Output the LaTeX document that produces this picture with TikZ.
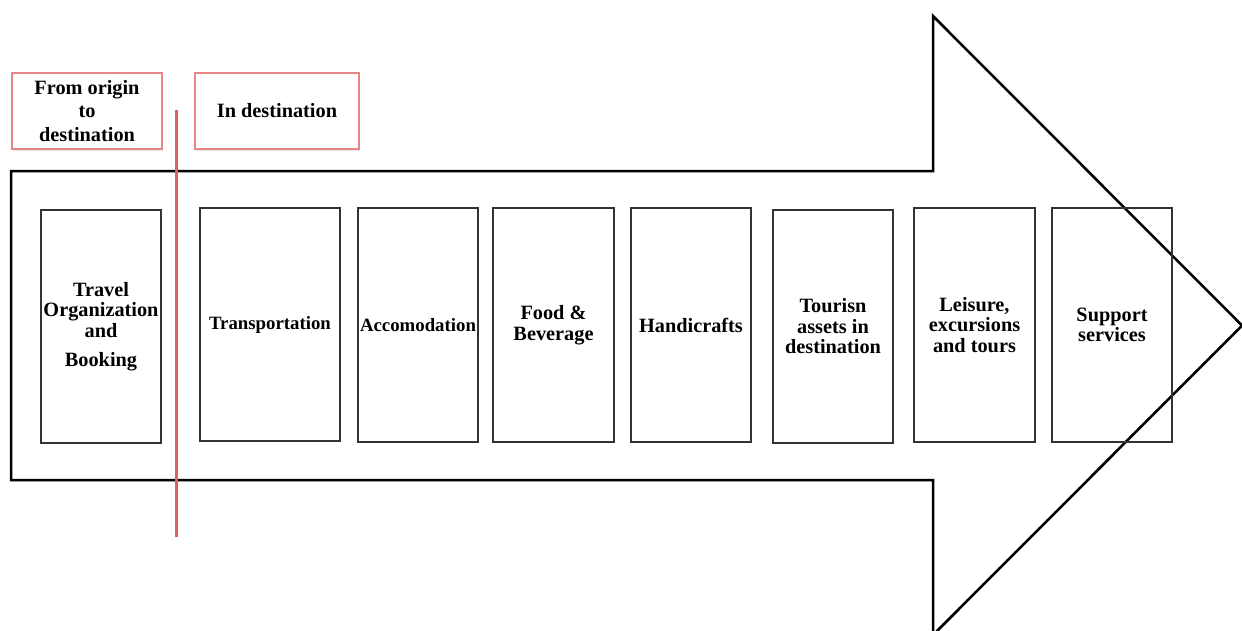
\documentclass[tikz,border=0pt]{standalone}
\usepackage{fontspec}
\setmainfont{Liberation Serif}
\usetikzlibrary{shadows}
\definecolor{redline}{HTML}{DD6060}
\definecolor{redbox}{HTML}{E88585}
\definecolor{cellgray}{HTML}{333333}
\tikzset{
  cell/.style={draw=cellgray, line width=1.4pt, inner sep=0pt, align=center,
    font=\bfseries\fontsize{20.3}{20.5}\selectfont},
  narrow/.style={font=\bfseries\fontsize{18.8}{20.5}\selectfont},
  tag/.style={draw=redbox, line width=1.3pt, inner sep=0pt, align=center, fill=white,
    font=\bfseries\fontsize{20.3}{23.5}\selectfont,
    drop shadow={opacity=0.2, shadow xshift=1pt, shadow yshift=-1.5pt}},
  bigarrow/.style={draw=black, line width=2.5pt, line join=miter, fill=white,
    drop shadow={opacity=0.2, shadow xshift=1pt, shadow yshift=-1.5pt}},
  divider/.style={draw=redline, line width=3pt}
}
\begin{document}
\begin{tikzpicture}[x=1pt,y=-1pt]
\useasboundingbox (0,0) rectangle (1242,630);
\clip (0,0) rectangle (1242,630);
% big arrow
\path[bigarrow] (11,171) -- (933,171) -- (933,16) -- (1242,325.5) -- (933,635) -- (933,480) -- (11,480) -- cycle;
% tags
\node[tag, minimum width=150pt, minimum height=76pt] (tagA) at (87,111) {From origin\\to\\destination};
\node[tag, minimum width=164pt, minimum height=76pt] (tagB) at (277,111) {In destination};
% cells
\node[cell, minimum width=120pt, minimum height=233pt] (c1) at (101,326.5) {Travel\\Organization\\and\\[9pt]Booking};
\node[cell, narrow, minimum width=140pt, minimum height=233pt] (c2) at (270,324.5) {Transportation};
\node[cell, narrow, minimum width=120pt, minimum height=234pt] (c3) at (418,325) {Accomodation};
\node[cell, minimum width=121pt, minimum height=234pt] (c4) at (553.5,325) {Food \&\\Beverage};
\node[cell, minimum width=120pt, minimum height=234pt] (c5) at (691,325) {Handicrafts};
\node[cell, minimum width=120pt, minimum height=233pt] (c6) at (833,326.5) {Tourisn\\assets in\\destination};
\node[cell, minimum width=121pt, minimum height=234pt] (c7) at (974.5,325) {Leisure,\\excursions\\and tours};
\node[cell, minimum width=120pt, minimum height=234pt] (c8) at (1112,325) {Support\\services};
% divider
\coordinate (dtop) at (176,110);
\coordinate (dbot) at (176,537);
\draw[divider] (dtop) -- (dbot);
\end{tikzpicture}
\end{document}
